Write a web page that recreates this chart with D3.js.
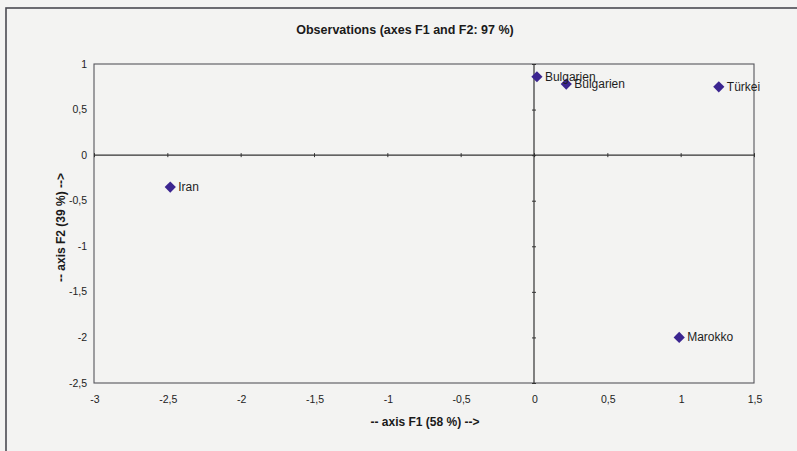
<!DOCTYPE html>
<html><head><meta charset="utf-8">
<script src="https://cdn.jsdelivr.net/npm/d3@7"></script>
<style>body{margin:0;background:#f3f3f2;} svg{display:block;font-family:"Liberation Sans",Arial,sans-serif;}</style>
</head><body><svg id="c" width="797" height="451"></svg>
<script>
const names = ["Bulgarien","Bulgarien","Türkei","Iran","Marokko"];
const f1 = [0.02, 0.22, 1.26, -2.48, 0.99];
const f2 = [0.86, 0.78, 0.75, -0.35, -2.0];
const xTicks = [-3,-2.5,-2,-1.5,-1,-0.5,0,0.5,1,1.5];
const yTicks = [1,0.5,0,-0.5,-1,-1.5,-2,-2.5];
const title = "Observations (axes F1 and F2: 97 %)";
const xTitle = "-- axis F1 (58 %) -->";
const yTitle = "-- axis F2 (39 %) -->";

const svg = d3.select("#c");
const fmt = v => String(v).replace(".", ",");
const L=94, R=754, T=64, B=383;
const x = d3.scaleLinear().domain([-3,1.5]).range([L,R]);
const y = d3.scaleLinear().domain([-2.5,1]).range([B,T]);

svg.append("rect").attr("width",797).attr("height",451).attr("fill","#f3f3f2");
// outer frame
svg.append("rect").attr("x",6).attr("y",8).attr("width",820).attr("height",480)
  .attr("fill","none").attr("stroke","#4a4a52").attr("stroke-width",1.6);

svg.append("text").attr("x",405).attr("y",34).attr("text-anchor","middle")
  .attr("font-size",12.5).attr("font-weight","bold").attr("fill","#1a1a1a").text(title);

// plot border
svg.append("rect").attr("x",L).attr("y",T).attr("width",R-L).attr("height",B-T)
  .attr("fill","none").attr("stroke","#55555c").attr("stroke-width",1.1);

// zero axes with ticks
const gx = svg.append("g").attr("transform",`translate(0,${y(0)})`)
  .call(d3.axisBottom(x).tickValues(xTicks).tickSize(4).tickFormat(""));
gx.selectAll("line").attr("transform","translate(0,-2)").attr("stroke","#333");
gx.select(".domain").attr("stroke","#333").attr("stroke-width",1.2).attr("d",`M${L},0H${R}`);
const gy = svg.append("g").attr("transform",`translate(${x(0)},0)`)
  .call(d3.axisLeft(y).tickValues(yTicks).tickSize(4).tickFormat(""));
gy.selectAll("line").attr("transform","translate(2,0)").attr("stroke","#333");
gy.select(".domain").attr("stroke","#333").attr("stroke-width",1.2).attr("d",`M0,${T}V${B}`);

// tick labels at edges
svg.append("g").selectAll("text").data(xTicks).join("text")
  .attr("x",d=>x(d)+1).attr("y",403).attr("text-anchor","middle")
  .attr("font-size",10.5).attr("fill","#222").text(fmt);
svg.append("g").selectAll("text").data(yTicks).join("text")
  .attr("x",87).attr("y",d=>y(d)+3.5).attr("text-anchor","end")
  .attr("font-size",10.5).attr("fill","#222").text(fmt);

svg.append("text").attr("x",425).attr("y",426).attr("text-anchor","middle")
  .attr("font-size",12).attr("font-weight","bold").attr("fill","#1a1a1a").text(xTitle);
svg.append("text").attr("transform",`translate(65,${(T+B)/2+4}) rotate(-90)`).attr("text-anchor","middle")
  .attr("font-size",12).attr("font-weight","bold").attr("fill","#1a1a1a").text(yTitle);

const pts = names.map((n,i)=>({n, a:f1[i], b:f2[i]}));
const g = svg.append("g");
g.selectAll("path").data(pts).join("path")
  .attr("d",d3.symbol().type(d3.symbolDiamond2).size(80)())
  .attr("transform",d=>`translate(${x(d.a)},${y(d.b)})`)
  .attr("fill","#3b2590");
g.selectAll("text").data(pts).join("text")
  .attr("x",d=>x(d.a)+8).attr("y",d=>y(d.b)+4)
  .attr("font-size",12).attr("fill","#1e1e1e").text(d=>d.n);
</script></body></html>
